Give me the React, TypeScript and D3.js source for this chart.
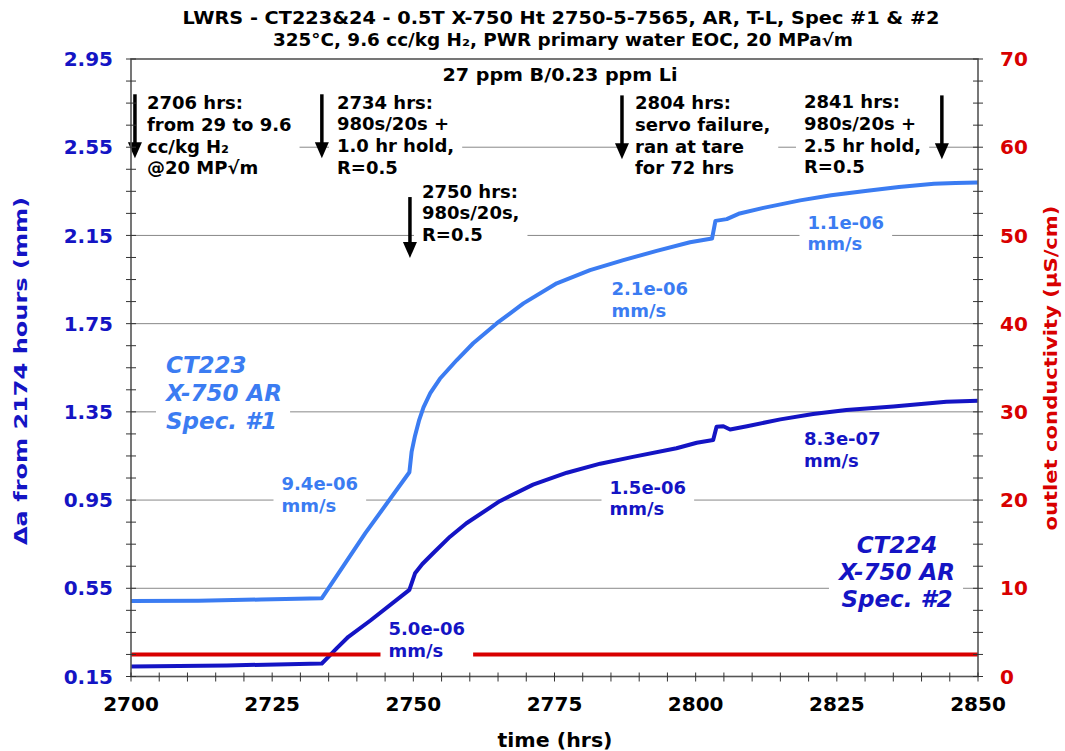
import React, {useEffect, useRef} from 'react';
import * as d3 from "d3"

// crack growth, CT223 (spec #1)
const ct223Time = [2700, 2712, 2723, 2733.8, 2741.5, 2749.3, 2749.7, 2750.3, 2751.0, 2751.8, 2753.0, 2754.7, 2757.7, 2760.6, 2764.8, 2769.5, 2775.4, 2781.3, 2787.2, 2793.1, 2799.0, 2802.9, 2803.5, 2805.5, 2807.6, 2812, 2818.5, 2824, 2830.4, 2836, 2842.2, 2846, 2850]
const ct223Delta = [0.492, 0.494, 0.499, 0.505, 0.80, 1.076, 1.17, 1.242, 1.31, 1.37, 1.435, 1.50, 1.585, 1.661, 1.752, 1.842, 1.933, 1.993, 2.038, 2.080, 2.119, 2.136, 2.216, 2.224, 2.248, 2.275, 2.309, 2.332, 2.353, 2.37, 2.384, 2.388, 2.39]

// crack growth, CT224 (spec #2)
const ct224Time = [2700, 2717, 2733.8, 2735.0, 2736.5, 2738.5, 2742.4, 2749.3, 2750.3, 2751.6, 2753.5, 2756.5, 2759.4, 2765.3, 2771.2, 2777.2, 2783.1, 2788.9, 2796.6, 2800.2, 2803.1, 2803.7, 2804.9, 2806.1, 2809.1, 2815.0, 2820.8, 2826.7, 2835.0, 2844.4, 2850]
const ct224Delta = [0.195, 0.200, 0.209, 0.24, 0.28, 0.33, 0.404, 0.543, 0.618, 0.66, 0.709, 0.784, 0.845, 0.945, 1.020, 1.074, 1.115, 1.146, 1.185, 1.210, 1.222, 1.282, 1.285, 1.270, 1.285, 1.316, 1.340, 1.358, 1.374, 1.396, 1.40]

// outlet conductivity
const condTime = [2700, 2850]
const condValue = [2.5, 2.5]

const timeTicks = [2700, 2725, 2750, 2775, 2800, 2825, 2850]
const deltaTicks = ["0.15", "0.55", "0.95", "1.35", "1.75", "2.15", "2.55", "2.95"]
const condTicks = [0, 10, 20, 30, 40, 50, 60, 70]

const arrowTimes = [2700.7, 2733.8, 2749.4, 2786.95, 2843.6]
const arrowTop = [2.79, 2.79, 2.324, 2.785, 2.785]
const arrowBottom = [2.50, 2.50, 2.048, 2.495, 2.495]
const noteText = [
  ["2706 hrs:", "from 29 to 9.6", "cc/kg H\u2082", "@20 MP\u221Am"],
  ["2734 hrs:", "980s/20s +", "1.0 hr hold,", "R=0.5"],
  ["2750 hrs:", "980s/20s,", "R=0.5"],
  ["2804 hrs:", "servo failure,", "ran at tare", "for 72 hrs"],
  ["2841 hrs:", "980s/20s +", "2.5 hr hold,", "R=0.5"],
]
const rateText = ["9.4e-06", "5.0e-06", "2.1e-06", "1.5e-06", "1.1e-06", "8.3e-07"]

const LIGHT = '#3b7cf2'
const DARK = '#1414c4'
const RED = '#d80000'
const FONT = "'DejaVu Sans', Verdana, sans-serif"
const COND = "'DejaVu Sans Condensed', 'DejaVu Sans', sans-serif"

export default function App() {
  const ref = useRef<SVGSVGElement>(null)

  useEffect(() => {
    const svg = d3.select(ref.current)
    svg.selectAll('*').remove()

    const L = 131, R = 978, T = 59, B = 676.5
    const x = d3.scaleLinear().domain([2700, 2850]).range([L, R])
    const yL = d3.scaleLinear().domain([0.15, 2.95]).range([B, T])
    const yR = d3.scaleLinear().domain([0, 70]).range([B, T])

    svg.append('rect').attr('width', 1065).attr('height', 751).attr('fill', '#fff')

    // gridlines
    svg.append('g').selectAll('line')
      .data(deltaTicks.slice(1, -1))
      .join('line')
      .attr('x1', L).attr('x2', R)
      .attr('y1', d => yL(+d)).attr('y2', d => yL(+d))
      .attr('stroke', '#7a7a7a').attr('stroke-width', 0.9)

    const line = d3.line<[number, number]>().x(d => x(d[0])).y(d => yL(d[1]))
    const lineR = d3.line<[number, number]>().x(d => x(d[0])).y(d => yR(d[1]))

    svg.append('path')
      .attr('d', line(ct223Time.map((t, i) => [t, ct223Delta[i]]) as any))
      .attr('fill', 'none').attr('stroke', LIGHT).attr('stroke-width', 4).attr('stroke-linejoin', 'round')
    svg.append('path')
      .attr('d', line(ct224Time.map((t, i) => [t, ct224Delta[i]]) as any))
      .attr('fill', 'none').attr('stroke', DARK).attr('stroke-width', 4).attr('stroke-linejoin', 'round')
    svg.append('path')
      .attr('d', lineR(condTime.map((t, i) => [t, condValue[i]]) as any))
      .attr('fill', 'none').attr('stroke', RED).attr('stroke-width', 4)

    // text boxes with white fill (they hide the gridlines like the excel ones)
    const boxed = (x0: number, y0: number, lines: string[], size: number, color: string, lh: number, anchor = 'start', italic = false) => {
      const g = svg.append('g')
      const text = g.append('text')
        .attr('font-family', FONT).attr('font-size', size).attr('font-weight', 'bold')
        .attr('font-style', italic ? 'italic' : 'normal')
        .attr('fill', color).attr('text-anchor', anchor)
      lines.forEach((l, i) => text.append('tspan').attr('x', x0).attr('y', y0 + i * lh).text(l))
      const bb = (text.node() as SVGTextElement).getBBox()
      g.insert('rect', 'text')
        .attr('x', bb.x - 8).attr('y', bb.y - 1)
        .attr('width', bb.width + 16).attr('height', bb.height + 2)
        .attr('fill', '#fff')
    }

    const noteX = [147, 337, 422, 635, 804]
    const noteY = [109, 108.5, 197.5, 109, 108]
    noteText.forEach((lines, i) => boxed(noteX[i], noteY[i], lines, 18, '#000', 21.8))

    const rateX = [281.5, 388.5, 611.5, 609.5, 807.5, 804]
    const rateY = [490, 635, 295, 493.5, 228.5, 445]
    const rateColor = [LIGHT, DARK, LIGHT, DARK, LIGHT, DARK]
    rateText.forEach((r, i) => boxed(rateX[i], rateY[i], [r, 'mm/s'], 18, rateColor[i], 21.7))

    boxed(166, 373, ['CT223', 'X-750 AR', 'Spec. #1'], 23, LIGHT, 28, 'start', true)
    boxed(897, 553, ['CT224', 'X-750 AR', 'Spec. #2'], 23, DARK, 27, 'middle', true)

    // arrows
    arrowTimes.forEach((t, i) => {
      const ax = x(t), y1 = yL(arrowTop[i]), y2 = yL(arrowBottom[i])
      svg.append('line').attr('x1', ax).attr('x2', ax).attr('y1', y1).attr('y2', y2 - 12)
        .attr('stroke', '#000').attr('stroke-width', 3.5)
      svg.append('path')
        .attr('d', `M${ax - 7},${y2 - 16}L${ax + 7},${y2 - 16}L${ax},${y2}Z`)
        .attr('fill', '#000')
    })

    // frame + ticks
    svg.append('rect').attr('x', L).attr('y', T).attr('width', R - L).attr('height', B - T)
      .attr('fill', 'none').attr('stroke', '#555').attr('stroke-width', 1.6)

    const ticks = svg.append('g').attr('stroke', '#333').attr('stroke-width', 1)
    d3.range(2700, 2851, 5).forEach(t => {
      ticks.append('line').attr('x1', x(t)).attr('x2', x(t)).attr('y1', B - 4).attr('y2', B + 5)
    })
    d3.range(0, 29).forEach(i => {
      const yy = yL(0.15 + i * 0.1)
      ticks.append('line').attr('x1', L - 5).attr('x2', L + 5).attr('y1', yy).attr('y2', yy)
    })
    d3.range(0, 29).forEach(i => {
      const yy = yR(i * 2.5)
      ticks.append('line').attr('x1', R - 5).attr('x2', R + 5).attr('y1', yy).attr('y2', yy)
    })

    svg.append('g').selectAll('text').data(deltaTicks).join('text')
      .attr('x', 113).attr('y', d => yL(+d)).attr('dy', '0.36em')
      .attr('text-anchor', 'end').attr('font-family', FONT).attr('font-weight', 'bold')
      .attr('font-size', 20).attr('fill', DARK).text(d => d)
    svg.append('g').selectAll('text').data(condTicks).join('text')
      .attr('x', 1000).attr('y', d => yR(d)).attr('dy', '0.36em')
      .attr('font-family', FONT).attr('font-weight', 'bold')
      .attr('font-size', 20).attr('fill', RED).text(d => d)
    svg.append('g').selectAll('text').data(timeTicks).join('text')
      .attr('x', d => x(d)).attr('y', 711)
      .attr('text-anchor', 'middle').attr('font-family', FONT).attr('font-weight', 'bold')
      .attr('font-size', 20).attr('fill', '#000').text(d => d)

    // titles
    const cond = (tx: number, ty: number, s: string, size: number, color: string, len: number, rot = 0) => {
      svg.append('text')
        .attr('transform', `translate(${tx},${ty}) rotate(${rot})`)
        .attr('text-anchor', 'middle').attr('font-family', COND).attr('font-stretch', 'condensed')
        .attr('font-weight', 'bold').attr('font-size', size).attr('fill', color)
        .attr('textLength', len).attr('lengthAdjust', 'spacingAndGlyphs')
        .text(s)
    }
    cond(561, 24, 'LWRS - CT223&24 - 0.5T X-750 Ht 2750-5-7565, AR, T-L, Spec #1 & #2', 17, '#000', 757)
    cond(563, 46, '325\u00B0C, 9.6 cc/kg H\u2082, PWR primary water EOC, 20 MPa\u221Am', 17, '#000', 580)
    cond(560, 81, '27 ppm B/0.23 ppm Li', 17, '#000', 235)
    cond(555, 747, 'time (hrs)', 19, '#000', 115)
    cond(27, 371, '\u0394a from 2174 hours (mm)', 18, DARK, 348, -90)
    cond(1057, 368, 'outlet conductivity (\u00B5S/cm)', 18, RED, 325, -90)
  }, [])

  return (
    <svg ref={ref} width={1065} height={751}
      style={{position: 'absolute', left: 0, top: 0}} />
  )
}
